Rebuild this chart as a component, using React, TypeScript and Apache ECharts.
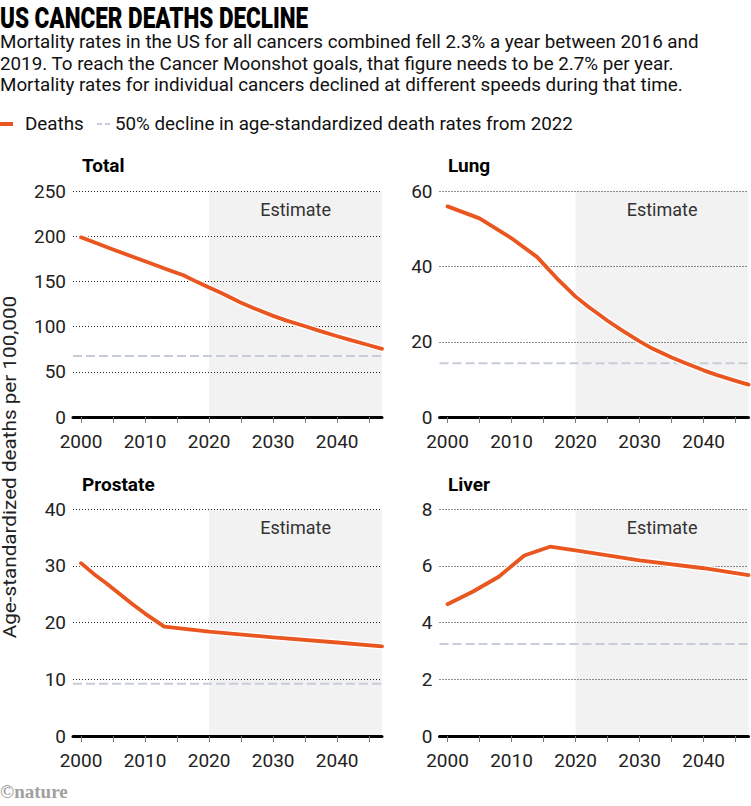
import React, { useEffect, useRef } from "react";
import * as echarts from "echarts";

// ---- Data ----
const panelTitles = ["Total", "Lung", "Prostate", "Liver"];

const totalYears = [2000, 2005, 2010, 2014, 2016, 2018, 2020, 2022, 2025, 2027, 2030, 2032, 2035, 2037, 2040, 2042, 2045, 2047];
const totalDeaths = [199, 185.5, 172.5, 162, 157, 150, 143.5, 137, 126.5, 120.5, 112, 107, 100.5, 96, 89.5, 85.5, 79.5, 75.5];

const lungYears = [2000, 2005, 2010, 2014, 2017, 2020, 2022, 2025, 2027, 2030, 2032, 2035, 2037, 2040, 2042, 2045, 2047];
const lungDeaths = [56, 52.8, 47.5, 42.5, 37, 32, 29.3, 25.6, 23.3, 20.1, 18.2, 15.8, 14.4, 12.4, 11.2, 9.6, 8.6];

const prostateYears = [2000, 2002, 2004, 2006, 2008, 2010, 2013, 2020, 2030, 2040, 2047];
const prostateDeaths = [30.5, 28.6, 26.9, 25.1, 23.3, 21.6, 19.3, 18.4, 17.4, 16.5, 15.8];

const liverYears = [2000, 2004, 2008, 2012, 2016, 2020, 2030, 2040, 2047];
const liverDeaths = [4.65, 5.1, 5.62, 6.37, 6.68, 6.55, 6.2, 5.92, 5.68];

// 50% decline in age-standardized death rates from 2022
const declineTarget = [67.5, 14.3, 9.2, 3.25];

const yMax = [250, 60, 40, 8];
const yInterval = [50, 20, 10, 2];
const xLabelYears = [2000, 2010, 2020, 2030, 2040];
const xTickYears = [2000, 2005, 2010, 2015, 2020, 2025, 2030, 2035, 2040, 2045];
const estimateStart = 2020;
const xStart = 1998.75;
const xEnd = 2047;

const titleText = "US CANCER DEATHS DECLINE";
const subtitleLines = [
  "Mortality rates in the US for all cancers combined fell 2.3% a year between 2016 and",
  "2019. To reach the Cancer Moonshot goals, that figure needs to be 2.7% per year.",
  "Mortality rates for individual cancers declined at different speeds during that time.",
];
const legendDeaths = "Deaths";
const legendTarget = "50% decline in age-standardized death rates from 2022";
const yAxisName = "Age-standardized deaths per 100,000";
const estimateLabel = "Estimate";

const panelData = [
  [totalYears, totalDeaths],
  [lungYears, lungDeaths],
  [prostateYears, prostateDeaths],
  [liverYears, liverDeaths],
];

// ---- Styles ----
const ORANGE = "#e9561f";
const DASH = "#c7cdd6";
const SHADE = "#f2f2f2";
const FONT = "Roboto";
const TXT = 18.8;

const grids = [
  { left: 73, top: 191.3, width: 309, height: 225.7 },
  { left: 439.5, top: 191.3, width: 309, height: 225.7 },
  { left: 73, top: 509.3, width: 309, height: 226.7 },
  { left: 439.5, top: 509.3, width: 309, height: 226.7 },
];
const titlePos = [
  [82, 165],
  [448, 165],
  [82, 484],
  [448, 484],
];

export default function App() {
  const ref = useRef<HTMLDivElement>(null);

  useEffect(() => {
    if (!ref.current) return;
    const chart = echarts.init(ref.current, null, { renderer: "svg" });

    const xAxes = grids.map((_, i) => ({
      type: "value",
      gridIndex: i,
      min: xStart,
      max: xEnd,
      axisLine: { show: true, onZero: false, lineStyle: { color: "#000", width: 3 } },
      axisTick: {
        show: true,
        customValues: xTickYears,
        length: 6,
        lineStyle: { color: "#777", width: 1 },
      },
      axisLabel: {
        customValues: xLabelYears,
        formatter: (v: number) => String(Math.round(v)),
        margin: 15,
        fontSize: 19,
        fontFamily: FONT,
        color: "#222",
      },
      splitLine: { show: false },
    }));

    const yAxes = grids.map((_, i) => ({
      type: "value",
      gridIndex: i,
      min: 0,
      max: yMax[i],
      interval: yInterval[i],
      axisLine: { show: false },
      axisTick: { show: false },
      axisLabel: { margin: 7, fontSize: 19, fontFamily: FONT, color: "#222" },
      splitLine: { show: true, lineStyle: { color: "#222", type: [1, 2], width: 1 } },
    }));

    const series: any[] = [];
    panelData.forEach(([years, vals], i) => {
      const pts = years.map((y, k) => [y, vals[k]]);
      series.push({
        type: "line",
        xAxisIndex: i,
        yAxisIndex: i,
        data: [],
        silent: true,
        z: -1,
        markArea: {
          silent: true,
          z: -1,
          itemStyle: { color: SHADE },
          label: {
            show: true,
            position: "insideTop",
            distance: 9,
            formatter: estimateLabel,
            fontSize: 18,
            fontFamily: FONT,
            color: "#333",
          },
          data: [[{ xAxis: estimateStart }, { xAxis: xEnd }]],
        },
      });
      series.push({
        type: "line",
        xAxisIndex: i,
        yAxisIndex: i,
        data: [
          [xStart, declineTarget[i]],
          [xEnd, declineTarget[i]],
        ],
        symbol: "none",
        silent: true,
        z: 2,
        lineStyle: { color: DASH, width: 2, type: [9, 4] },
      });
      series.push({
        type: "line",
        xAxisIndex: i,
        yAxisIndex: i,
        data: pts,
        symbol: "none",
        silent: true,
        z: 3,
        lineStyle: { color: "#fff", width: 6.5, cap: "round", join: "round" },
      });
      series.push({
        type: "line",
        xAxisIndex: i,
        yAxisIndex: i,
        data: pts,
        symbol: "none",
        silent: true,
        z: 4,
        lineStyle: { color: ORANGE, width: 3.8, cap: "round", join: "round" },
      });
    });

    const graphic: any[] = [
      {
        type: "text",
        x: 0,
        y: 17,
        scaleX: 0.75,
        style: {
          text: titleText,
          fontSize: 30,
          fontWeight: 900,
          fontFamily: FONT,
          fill: "#000",
          verticalAlign: "middle",
        },
      },
      ...subtitleLines.map((t, k) => ({
        type: "text",
        x: 0,
        y: [42, 64, 85][k],
        style: { text: t, fontSize: TXT, fontFamily: FONT, fill: "#111", verticalAlign: "middle" },
      })),
      {
        type: "line",
        shape: { x1: 0, y1: 124, x2: 13, y2: 124 },
        style: { stroke: ORANGE, lineWidth: 4 },
      },
      {
        type: "text",
        x: 25,
        y: 124,
        style: { text: legendDeaths, fontSize: TXT, fontFamily: FONT, fill: "#111", verticalAlign: "middle" },
      },
      {
        type: "line",
        shape: { x1: 97, y1: 124, x2: 110, y2: 124 },
        style: { stroke: DASH, lineWidth: 2, lineDash: [5, 3] },
      },
      {
        type: "text",
        x: 115,
        y: 124,
        style: { text: legendTarget, fontSize: TXT, fontFamily: FONT, fill: "#111", verticalAlign: "middle" },
      },
      ...panelTitles.map((t, i) => ({
        type: "text",
        x: titlePos[i][0],
        y: titlePos[i][1],
        style: {
          text: t,
          fontSize: 19,
          fontWeight: "bold",
          fontFamily: FONT,
          fill: "#000",
          verticalAlign: "middle",
        },
      })),
      {
        type: "text",
        x: 10,
        y: 467,
        rotation: Math.PI / 2,
        scaleX: 1.15,
        style: {
          text: yAxisName,
          fontSize: 18,
          fontFamily: FONT,
          fill: "#222",
          align: "center",
          verticalAlign: "middle",
        },
      },
      {
        type: "text",
        x: 0,
        y: 791,
        style: {
          text: "©nature",
          fontSize: 19,
          fontWeight: "bold",
          fontFamily: "Liberation Serif",
          fill: "#a0a0a0",
          verticalAlign: "middle",
        },
      },
    ];

    chart.setOption({
      animation: false,
      backgroundColor: "#fff",
      grid: grids.map((g) => ({ ...g, containLabel: false })),
      xAxis: xAxes,
      yAxis: yAxes,
      series,
      graphic,
    });

    return () => chart.dispose();
  }, []);

  return (
    <div
      ref={ref}
      style={{ position: "fixed", left: 0, top: 0, width: 751, height: 806, background: "#fff" }}
    />
  );
}
